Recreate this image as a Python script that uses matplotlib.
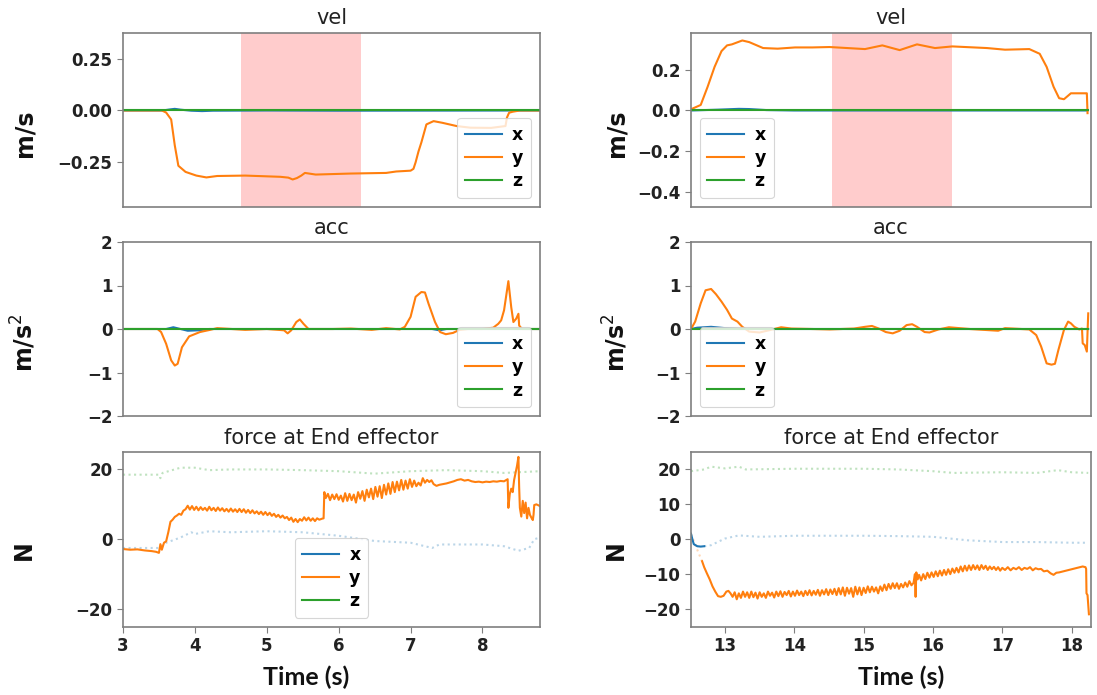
import matplotlib
matplotlib.use("Agg")
import matplotlib.pyplot as plt

# ---- time base / signals: first trial (left column) ----
vel_y_t1 = [3.0, 3.54, 3.60, 3.67, 3.72, 3.77, 3.87, 4.02, 4.16, 4.31, 4.70, 5.19, 5.30, 5.36, 5.42, 5.48,
            5.53, 5.68, 6.17, 6.66, 6.80, 7.00, 7.04, 7.07, 7.11, 7.15, 7.22, 7.32, 7.44, 7.64, 7.83,
            8.12, 8.32, 8.34, 8.37, 8.42, 8.52, 8.80]
vel_y_v1 = [0.0, 0.0, -0.01, -0.044, -0.17, -0.27, -0.30, -0.318, -0.327, -0.32, -0.318, -0.324, -0.328,
            -0.337, -0.33, -0.318, -0.305, -0.313, -0.308, -0.305, -0.298, -0.294, -0.285, -0.253, -0.20,
            -0.156, -0.068, -0.052, -0.06, -0.076, -0.084, -0.085, -0.076, -0.035, -0.011, -0.006, 0.0, 0.0]
vel_x_t1 = [3.0, 3.55, 3.65, 3.72, 3.80, 3.95, 4.10, 4.25, 5.0, 6.0, 8.8]
vel_x_v1 = [0.0, 0.0, 0.005, 0.008, 0.004, -0.001, -0.003, -0.001, 0.0, -0.001, 0.0]
vel_z_t1 = [3.0, 8.8]
vel_z_v1 = [0.0, 0.0]

acc_y_t1 = [3.0, 3.48, 3.53, 3.60, 3.67, 3.72, 3.76, 3.82, 3.92, 4.07, 4.21, 4.31, 4.51, 4.70, 5.0,
            5.24, 5.29, 5.34, 5.41, 5.46, 5.51, 5.58, 5.92, 6.17, 6.46, 6.66, 6.85, 6.92, 7.0, 7.07,
            7.15, 7.20, 7.25, 7.34, 7.41, 7.49, 7.59, 7.68, 7.80, 8.00, 8.15, 8.22, 8.26, 8.30, 8.36,
            8.40, 8.43, 8.47, 8.50, 8.51, 8.55, 8.80]
acc_y_v1 = [0.0, 0.0, -0.07, -0.34, -0.72, -0.84, -0.80, -0.42, -0.17, -0.07, -0.02, 0.02, 0.0, -0.02,
            0.0, -0.03, -0.10, -0.03, 0.16, 0.22, 0.12, 0.0, 0.0, 0.01, -0.02, 0.02, -0.01, 0.05, 0.28,
            0.74, 0.85, 0.84, 0.58, 0.16, -0.07, -0.12, -0.09, -0.02, 0.0, 0.0, 0.03, 0.12, 0.20, 0.43,
            1.10, 0.50, 0.16, 0.24, 0.35, 0.08, 0.0, 0.0]
acc_x_t1 = [3.0, 3.60, 3.70, 3.80, 3.90, 4.05, 4.20, 7.30, 7.40, 7.50, 8.80]
acc_x_v1 = [0.0, 0.0, 0.04, 0.0, -0.04, -0.03, 0.0, 0.0, -0.03, 0.0, 0.0]
acc_z_t1 = [3.0, 8.8]
acc_z_v1 = [0.0, 0.0]

frc_y_t1 = [3.00, 3.10, 3.20, 3.30, 3.40, 3.46, 3.50, 3.52, 3.54, 3.57, 3.60, 3.63, 3.66, 3.69, 3.72,
            3.75, 3.78, 3.81, 3.84, 3.87, 3.90, 3.93, 3.96, 3.99, 4.02, 4.05, 4.08, 4.11, 4.14, 4.17,
            4.20, 4.23, 4.26, 4.29, 4.32, 4.35, 4.38, 4.41, 4.44, 4.47, 4.50, 4.53, 4.56, 4.59, 4.62,
            4.65, 4.68, 4.71, 4.74, 4.77, 4.80, 4.83, 4.86, 4.89, 4.92, 4.95, 4.98, 5.01, 5.04, 5.07,
            5.10, 5.13, 5.16, 5.19, 5.22, 5.25, 5.28, 5.31, 5.34, 5.37, 5.40, 5.43, 5.46, 5.49, 5.52,
            5.55, 5.58, 5.61, 5.64, 5.67, 5.70, 5.73, 5.77, 5.79, 5.80, 5.82, 5.85, 5.88, 5.91, 5.94,
            5.97, 6.00, 6.03, 6.06, 6.09, 6.12, 6.15, 6.18, 6.21, 6.24, 6.27, 6.30, 6.33, 6.36, 6.39,
            6.42, 6.45, 6.48, 6.51, 6.54, 6.57, 6.60, 6.63, 6.66, 6.69, 6.72, 6.75, 6.78, 6.81, 6.84,
            6.87, 6.90, 6.93, 6.96, 6.99, 7.02, 7.05, 7.08, 7.11, 7.14, 7.17, 7.20, 7.23, 7.26, 7.29,
            7.32, 7.36, 7.40, 7.45, 7.50, 7.55, 7.60, 7.65, 7.70, 7.75, 7.80, 7.85, 7.90, 7.95, 8.00,
            8.05, 8.10, 8.15, 8.20, 8.25, 8.30, 8.35, 8.36, 8.38, 8.40, 8.42, 8.44, 8.46, 8.48, 8.50,
            8.51, 8.52, 8.54, 8.56, 8.58, 8.60, 8.62, 8.64, 8.66, 8.68, 8.70, 8.71, 8.72, 8.75, 8.80]
frc_y_v1 = [-2.8, -3.0, -2.9, -3.2, -3.4, -3.6, -3.9, -1.4, -3.0, -1.0, -0.6, 2.0, 5.0, 5.6, 6.4,
            6.8, 7.3, 7.0, 8.2, 8.6, 9.6, 8.5, 9.5, 8.4, 9.3, 8.3, 9.2, 8.4, 9.0, 8.2,
            9.3, 8.3, 9.0, 8.1, 9.1, 8.2, 8.9, 8.0, 8.7, 7.9, 8.8, 7.9, 8.6, 7.8, 8.7,
            7.8, 8.6, 7.6, 8.4, 7.5, 8.3, 7.4, 8.0, 7.2, 7.9, 7.0, 7.8, 6.9, 7.6, 6.7,
            7.3, 6.4, 7.0, 6.2, 6.8, 6.0, 6.4, 5.5, 6.2, 5.0, 5.8, 4.9, 5.8, 5.3, 6.3,
            5.4, 6.2, 5.3, 6.0, 5.2, 6.0, 5.6, 5.9, 6.0, 13.5, 11.8, 13.0, 11.2, 12.8, 11.5,
            12.9, 11.3, 12.5, 10.8, 13.2, 11.0, 13.0, 11.2, 12.8, 10.5, 13.5, 11.6, 13.8, 11.0, 14.2,
            12.0, 14.5, 11.5, 15.0, 12.2, 15.2, 11.8, 15.6, 12.8, 16.0, 13.0, 16.4, 13.5, 16.5, 14.0,
            17.0, 14.2, 16.8, 14.5, 17.2, 15.0, 16.8, 15.2, 16.2, 15.4, 17.5, 16.2, 17.0, 16.4, 16.9,
            15.8, 15.3, 15.6, 15.8, 16.0, 16.3, 16.6, 17.0, 17.2, 16.8, 17.0, 16.6, 16.4, 16.5, 16.3,
            16.5, 16.4, 16.6, 16.5, 16.7, 16.6, 17.2, 9.0, 13.0, 14.5, 13.5, 17.0, 19.0, 21.0, 23.6,
            15.0, 9.0, 6.5, 11.0, 7.5, 10.5, 6.0, 9.0, 7.0, 6.2, 5.5, 7.0, 9.8, 10.0, 9.5]
frc_x_t1 = [3.0, 3.5, 3.6, 3.8, 3.95, 4.0, 4.2, 4.5, 5.0, 5.5, 6.0, 6.5, 7.0, 7.3, 7.4, 8.0, 8.3, 8.5,
            8.65, 8.72, 8.8]
frc_x_v1 = [-2.5, -2.5, -1.0, 0.5, 2.0, 1.5, 2.3, 2.0, 2.3, 2.0, 1.0, -0.5, -1.0, -2.5, -1.5, -1.5,
            -2.0, -3.3, -2.5, 0.0, 0.5]
frc_z_t1 = [3.0, 3.5, 3.52, 3.55, 3.8, 4.0, 4.2, 4.5, 5.0, 5.5, 6.0, 6.5, 7.0, 7.5, 8.0, 8.3, 8.5, 8.8]
frc_z_v1 = [18.5, 18.5, 17.5, 19.0, 20.5, 20.5, 19.8, 20.0, 20.0, 19.8, 19.5, 18.8, 19.5, 19.8, 19.5,
            19.0, 19.2, 19.5]

# ---- second trial (right column) ----
vel_y_t2 = [12.51, 12.65, 12.75, 12.85, 12.95, 13.03, 13.10, 13.25, 13.35, 13.55, 13.76, 14.01, 14.26,
            14.51, 15.02, 15.27, 15.52, 15.77, 16.03, 16.28, 16.78, 17.04, 17.39, 17.54, 17.64, 17.74,
            17.82, 17.89, 17.99, 18.20, 18.22, 18.23]
vel_y_v2 = [0.006, 0.027, 0.116, 0.213, 0.29, 0.318, 0.323, 0.342, 0.334, 0.305, 0.302, 0.308, 0.308,
            0.31, 0.30, 0.318, 0.295, 0.323, 0.305, 0.313, 0.305, 0.297, 0.30, 0.277, 0.213, 0.116,
            0.06, 0.055, 0.084, 0.084, 0.084, -0.013]
vel_x_t2 = [12.51, 12.9, 13.2, 13.35, 13.6, 14.0, 18.23]
vel_x_v2 = [0.0, 0.004, 0.008, 0.007, 0.002, 0.0, 0.0]
vel_z_t2 = [12.51, 18.23]
vel_z_v2 = [0.0, 0.0]

acc_y_t2 = [12.51, 12.57, 12.65, 12.72, 12.80, 12.87, 12.95, 13.03, 13.10, 13.18, 13.25, 13.35, 13.50,
            13.66, 13.81, 13.96, 14.26, 14.51, 14.86, 15.02, 15.12, 15.22, 15.32, 15.42, 15.52, 15.62,
            15.70, 15.77, 15.88, 15.95, 16.08, 16.23, 16.53, 16.94, 17.04, 17.39, 17.49, 17.56, 17.64,
            17.71, 17.76, 17.81, 17.89, 17.95, 17.99, 18.04, 18.11, 18.15, 18.16, 18.19, 18.22, 18.24]
acc_y_v2 = [0.0, 0.17, 0.59, 0.89, 0.92, 0.80, 0.63, 0.44, 0.24, 0.17, 0.05, -0.06, -0.08, -0.02, 0.04,
            0.01, 0.0, -0.01, 0.01, 0.05, 0.07, 0.01, -0.07, -0.10, -0.04, 0.09, 0.11, 0.05, -0.07,
            -0.08, -0.01, 0.04, 0.0, -0.04, 0.02, -0.01, -0.14, -0.40, -0.79, -0.82, -0.80, -0.48,
            -0.02, 0.17, 0.13, 0.05, -0.01, 0.01, -0.33, -0.37, -0.52, 0.36]
acc_x_t2 = [12.51, 12.6, 12.8, 13.0, 13.2, 18.24]
acc_x_v2 = [0.0, 0.03, 0.05, 0.02, 0.0, 0.0]
acc_z_t2 = [12.51, 18.24]
acc_z_v2 = [0.0, 0.0]

frc_y_t2 = [12.67, 12.70, 12.74, 12.78, 12.82, 12.86, 12.90, 12.94, 12.98, 13.02, 13.05, 13.08, 13.11,
            13.14, 13.17, 13.20, 13.23, 13.26, 13.29, 13.32, 13.35, 13.38, 13.41, 13.44, 13.47, 13.50,
            13.53, 13.56, 13.59, 13.62, 13.65, 13.68, 13.71, 13.74, 13.77, 13.80, 13.83, 13.86, 13.89,
            13.92, 13.95, 13.98, 14.01, 14.04, 14.07, 14.10, 14.13, 14.16, 14.19, 14.22, 14.25, 14.28,
            14.31, 14.34, 14.37, 14.40, 14.43, 14.46, 14.49, 14.52, 14.55, 14.58, 14.61, 14.64, 14.67,
            14.70, 14.73, 14.76, 14.79, 14.82, 14.85, 14.88, 14.91, 14.94, 14.97, 15.00, 15.03, 15.06,
            15.09, 15.12, 15.15, 15.18, 15.21, 15.24, 15.27, 15.30, 15.33, 15.36, 15.39, 15.42, 15.45,
            15.48, 15.51, 15.54, 15.57, 15.60, 15.63, 15.66, 15.69, 15.72, 15.74, 15.75, 15.76, 15.78,
            15.80, 15.83, 15.86, 15.89, 15.92, 15.95, 15.98, 16.01, 16.04, 16.07, 16.10, 16.13, 16.16,
            16.19, 16.22, 16.25, 16.28, 16.31, 16.34, 16.37, 16.40, 16.43, 16.46, 16.49, 16.52, 16.55,
            16.58, 16.61, 16.64, 16.67, 16.70, 16.73, 16.76, 16.79, 16.82, 16.85, 16.88, 16.91, 16.94,
            16.97, 17.00, 17.04, 17.08, 17.12, 17.16, 17.20, 17.24, 17.28, 17.32, 17.36, 17.40, 17.44,
            17.48, 17.52, 17.56, 17.60, 17.65, 17.70, 17.74, 17.78, 17.82, 17.88, 17.94, 18.00, 18.06,
            18.12, 18.16, 18.20, 18.21, 18.215, 18.23, 18.25]
frc_y_v2 = [-6.3, -8.0, -9.8, -11.5, -13.5, -15.0, -16.3, -16.5, -16.2, -15.0, -14.8, -15.5, -16.5,
            -15.2, -17.2, -15.5, -16.8, -15.0, -16.5, -15.2, -16.8, -15.0, -16.6, -15.3, -17.0, -15.2,
            -16.5, -15.5, -16.8, -15.0, -16.2, -15.3, -16.7, -15.0, -16.3, -14.9, -16.5, -15.1, -16.0,
            -14.8, -16.4, -15.0, -16.2, -14.7, -16.0, -15.0, -16.3, -14.8, -16.0, -14.6, -16.1, -14.8,
            -15.9, -14.5, -16.2, -14.6, -15.8, -14.3, -16.0, -14.4, -15.7, -14.2, -16.0, -14.0, -15.8,
            -13.8, -16.2, -13.9, -15.6, -14.0, -16.5, -13.6, -15.8, -13.8, -16.0, -13.9, -15.4, -13.5,
            -15.2, -13.6, -15.0, -13.8, -15.5, -13.5, -14.8, -13.0, -14.6, -12.8, -14.2, -12.6, -14.0,
            -12.6, -14.2, -12.8, -13.8, -12.4, -13.6, -12.0, -13.2, -12.5, -10.0, -16.5, -9.5, -11.5,
            -10.2, -11.8, -10.0, -11.4, -9.6, -11.0, -9.5, -10.8, -9.2, -10.6, -9.0, -10.4, -8.8,
            -10.2, -8.6, -10.0, -8.4, -9.6, -8.2, -9.5, -7.8, -9.2, -7.6, -9.0, -7.5, -8.8,
            -7.4, -8.6, -7.5, -8.8, -7.4, -8.5, -7.6, -8.8, -7.8, -8.6, -7.9, -8.8, -8.0,
            -9.0, -8.2, -8.8, -8.0, -8.9, -8.2, -8.6, -8.0, -8.8, -8.2, -8.5, -8.0, -8.9,
            -8.3, -8.6, -8.5, -9.2, -9.0, -9.8, -10.2, -9.6, -9.5, -9.2, -8.9, -8.6, -8.3,
            -8.0, -7.8, -8.0, -8.5, -15.5, -16.0, -21.5]
frc_y_pre_t2 = [12.51, 12.56, 12.62, 12.67]
frc_y_pre_v2 = [1.5, -1.0, -4.0, -6.3]
frc_x_pre_t2 = [12.51, 12.53, 12.55, 12.60, 12.65, 12.70]
frc_x_pre_v2 = [1.6, 0.0, -1.4, -2.0, -2.1, -2.0]
frc_x_t2 = [12.70, 12.8, 13.0, 13.2, 13.5, 14.0, 15.0, 15.5, 16.0, 16.5, 17.0, 17.5, 18.0, 18.24]
frc_x_v2 = [-2.0, -1.7, 0.2, 1.1, 0.7, 1.0, 1.0, 0.9, 0.7, -0.3, -0.8, -0.8, -1.0, -1.0]
frc_z_t2 = [12.51, 12.7, 12.8, 13.0, 13.2, 13.3, 14.0, 15.0, 15.5, 16.0, 16.3, 17.0, 17.5, 17.8, 18.0,
            18.24]
frc_z_v2 = [19.5, 20.0, 20.8, 20.3, 20.8, 20.0, 20.2, 20.2, 20.0, 19.5, 19.0, 19.2, 19.0, 19.8, 19.2,
            19.0]

# highlighted intervals and axis ranges
span1 = (4.64, 6.31)
span2 = (14.55, 16.27)
xlim1 = (3.0, 8.8)
xlim2 = (12.51, 18.28)
xticks1 = [3, 4, 5, 6, 7, 8]
xticks2 = [13, 14, 15, 16, 17, 18]

W, H = 1097, 695
fig = plt.figure(figsize=(W / 100, H / 100), dpi=100)

C0, C1, C2 = "#1f77b4", "#ff7f0e", "#2ca02c"


def make_ax(x0, x1, y0, y1):
    ax = fig.add_axes([x0 / W, 1 - y1 / H, (x1 - x0) / W, (y1 - y0) / H])
    for s in ax.spines.values():
        s.set_color("#7f7f7f")
        s.set_linewidth(1.2)
    ax.tick_params(colors="#222222", length=4, color="#7f7f7f", labelsize=12)
    return ax


def style_ticks(ax):
    for lab in ax.get_xticklabels() + ax.get_yticklabels():
        lab.set_fontweight("bold")


def ylabel(px, py, text):
    fig.text(px / W, 1 - py / H, text, rotation=90, ha="center", va="center",
             fontsize=17, fontweight="bold", color="#111111")


def legend(ax, loc):
    lg = ax.legend(loc=loc, prop={"weight": "bold", "size": 12.5}, handlelength=2.1,
                   labelspacing=0.3, borderpad=0.45, handletextpad=0.6)
    lg.get_frame().set_linewidth(0.8)


cols = [(123, 540), (691, 1091)]
rows = [(32.7, 206.7), (242, 416), (452, 626.5)]
trials = [
    dict(xlim=xlim1, xticks=xticks1, span=span1,
         vel=[(vel_x_t1, vel_x_v1), (vel_y_t1, vel_y_v1), (vel_z_t1, vel_z_v1)],
         acc=[(acc_x_t1, acc_x_v1), (acc_y_t1, acc_y_v1), (acc_z_t1, acc_z_v1)],
         vloc="lower right", aloc="lower right", ylx=24, tx=306),
    dict(xlim=xlim2, xticks=xticks2, span=span2,
         vel=[(vel_x_t2, vel_x_v2), (vel_y_t2, vel_y_v2), (vel_z_t2, vel_z_v2)],
         acc=[(acc_x_t2, acc_x_v2), (acc_y_t2, acc_y_v2), (acc_z_t2, acc_z_v2)],
         vloc="lower left", aloc="lower left", ylx=616, tx=901),
]

for ci, tr in enumerate(trials):
    x0, x1 = cols[ci]

    # velocity
    ax = make_ax(x0, x1, *rows[0])
    ax.axvspan(*tr["span"], color="red", alpha=0.2, lw=0)
    for (t, v), c, lab in zip(tr["vel"], [C0, C1, C2], ["x", "y", "z"]):
        ax.plot(t, v, color=c, lw=1.5, label=lab)
    ax.set_xlim(*tr["xlim"])
    ax.set_ylim(-0.47, 0.38)
    ax.set_xticks([])
    if ci == 0:
        ax.set_yticks([-0.25, 0.0, 0.25])
    else:
        ax.set_yticks([-0.4, -0.2, 0.0, 0.2])
    ax.set_title("vel", fontsize=15, color="#222222")
    style_ticks(ax)
    legend(ax, tr["vloc"])
    ylabel(tr["ylx"], 133, "m/s")

    # acceleration
    ax = make_ax(x0, x1, *rows[1])
    for (t, v), c, lab in zip(tr["acc"], [C0, C1, C2], ["x", "y", "z"]):
        ax.plot(t, v, color=c, lw=1.5, label=lab)
    ax.set_xlim(*tr["xlim"])
    ax.set_ylim(-2, 2)
    ax.set_xticks([])
    ax.set_yticks([-2, -1, 0, 1, 2])
    ax.set_title("acc", fontsize=15, color="#222222")
    style_ticks(ax)
    legend(ax, tr["aloc"])
    ylabel(tr["ylx"], 343, "m/s$^2$")

    # force at the end effector
    ax = make_ax(x0, x1, *rows[2])
    if ci == 0:
        ax.plot(frc_x_t1, frc_x_v1, color=C0, lw=1.5, ls=":", alpha=0.3)
        ax.plot(frc_z_t1, frc_z_v1, color=C2, lw=1.5, ls=":", alpha=0.3)
        ax.plot(frc_y_t1, frc_y_v1, color=C1, lw=1.5)
        ax.plot([], [], color=C0, lw=1.5, label="x")
        ax.plot([], [], color=C1, lw=1.5, label="y")
        ax.plot([], [], color=C2, lw=1.5, label="z")
        legend(ax, "lower center")
        ax.set_yticks([-20, 0, 20])
    else:
        ax.plot(frc_x_t2, frc_x_v2, color=C0, lw=1.5, ls=":", alpha=0.3)
        ax.plot(frc_z_t2, frc_z_v2, color=C2, lw=1.5, ls=":", alpha=0.3)
        ax.plot(frc_y_pre_t2, frc_y_pre_v2, color=C1, lw=1.5, ls=":", alpha=0.3)
        ax.plot(frc_x_pre_t2, frc_x_pre_v2, color=C0, lw=1.5)
        ax.plot(frc_y_t2, frc_y_v2, color=C1, lw=1.5)
        ax.set_yticks([-20, -10, 0, 10, 20])
    ax.set_xlim(*tr["xlim"])
    ax.set_ylim(-25, 25)
    ax.set_xticks(tr["xticks"])
    ax.set_title("force at End effector", fontsize=15, color="#222222")
    style_ticks(ax)
    ylabel(tr["ylx"], 550, "N")

    fig.text(tr["tx"] / W, 1 - 677 / H, "Time (s)", ha="center", va="center",
             fontsize=18, fontweight="bold", family="Lato", color="#111111")

fig.savefig("out.png", dpi=100)
